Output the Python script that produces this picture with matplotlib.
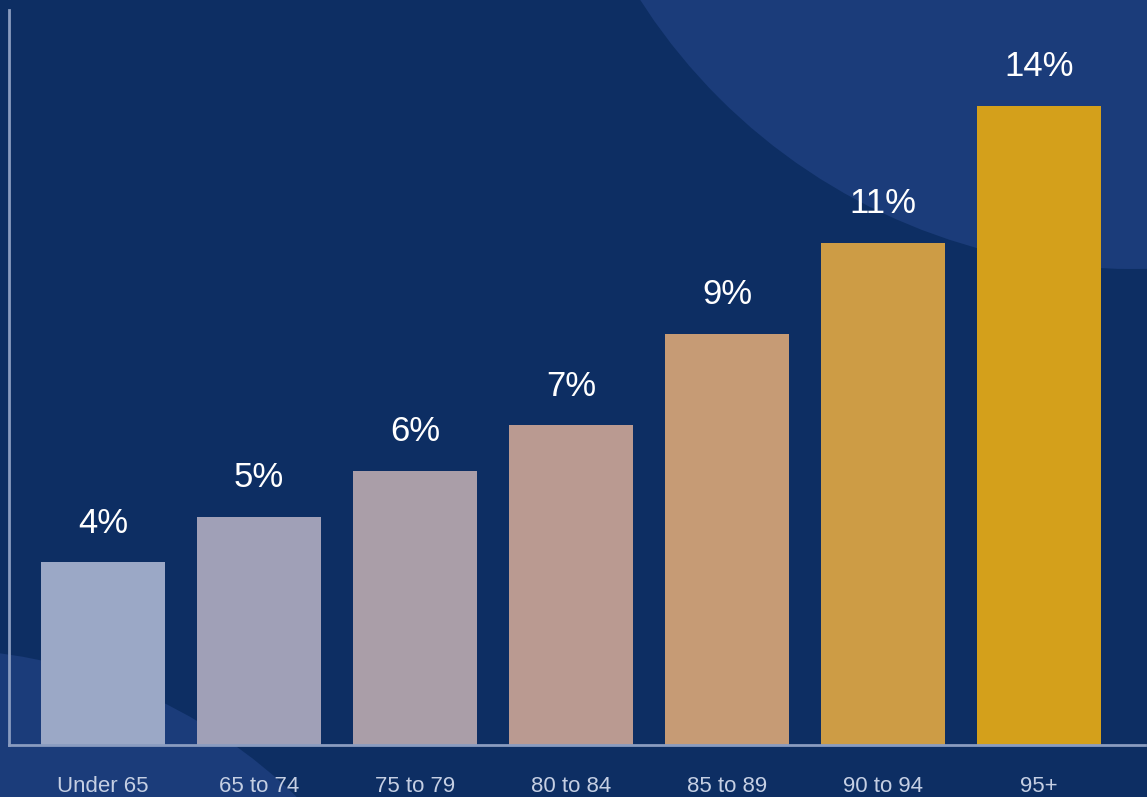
import numpy as np
import matplotlib
matplotlib.use('agg')
import matplotlib.pyplot as plt
from matplotlib.patches import Circle
from matplotlib.transforms import IdentityTransform

plt.rcParams['font.family'] = ['Liberation Sans', 'DejaVu Sans']

# Data
age_groups = ["Under 65", "65 to 74", "75 to 79", "80 to 84", "85 to 89", "90 to 94", "95+"]
shares = [4, 5, 6, 7, 9, 11, 14]
labels = ["4%", "5%", "6%", "7%", "9%", "11%", "14%"]
bar_colors = ["#9BA8C6", "#A0A0B7", "#AA9EA8", "#BA9A91", "#C69B75", "#CD9C45", "#D4A01B"]

bg = "#0D2E63"
bg_light = "#1B3C7A"
W, H = 1147, 797

fig = plt.figure(figsize=(W / 100, H / 100), dpi=100, facecolor=bg)

# decorative background circles (pixel coords, origin bottom-left)
fig.patches.append(Circle((1132, H + 315), 584, transform=IdentityTransform(),
                          facecolor=bg_light, edgecolor='none', zorder=-10))
fig.patches.append(Circle((-67, H - 1170), 521, transform=IdentityTransform(),
                          facecolor=bg_light, edgecolor='none', zorder=-10))

ax = fig.add_axes([9 / W, 52 / H, (1145 - 9) / W, (745 - 10) / H])
ax.set_facecolor('none')
ax.set_zorder(5)

x = np.arange(len(age_groups))
ax.bar(x, shares, width=0.8, color=bar_colors, zorder=2)

for xi, v, lab in zip(x, shares, labels):
    ax.annotate(lab, (xi, v), textcoords="offset points", xytext=(0, 21.5),
                ha='center', va='baseline', color='white', fontsize=25)

ax.set_xlim(-0.603, 6.68)
ax.set_ylim(0, 16.1)
ax.set_yticks([])
ax.set_xticks(x)
ax.set_xticklabels(age_groups, fontsize=16, color="#C5CFE3")
ax.tick_params(axis='x', length=0, pad=22)

for side in ['top', 'right']:
    ax.spines[side].set_visible(False)
for side in ['left', 'bottom']:
    ax.spines[side].set_color("#8A9CC0")
    ax.spines[side].set_linewidth(2)

fig.savefig("out.png", dpi=100, facecolor=bg)
